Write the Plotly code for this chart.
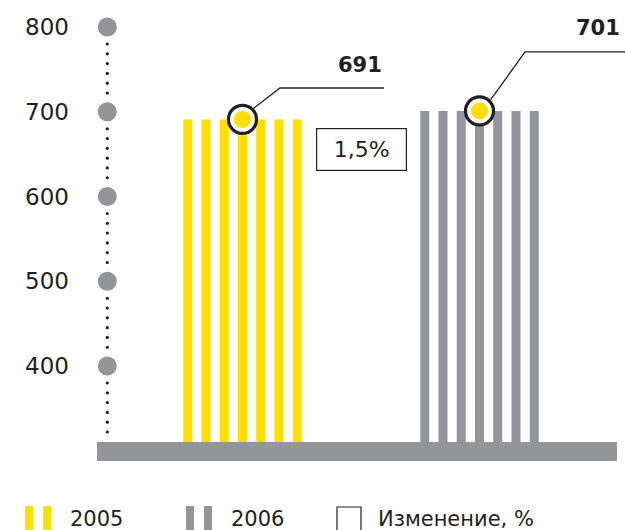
import plotly.graph_objects as go

# ---------------- data ----------------
years = ["2005", "2006"]
values = [691, 701]
change_label = "1,5%"
tick_values = [800, 700, 600, 500, 400]
legend_change = "Изменение, %"

# ---------------- style ----------------
YELLOW = "#FFDE00"
GRAY = "#939598"
DARK = "#231F20"
W, H = 625, 530
FONT = "DejaVu Sans"

# pixel geometry of the canvas (plot area = whole figure)
PX_PER_UNIT_Y = (366 - 27) / 400.0       # pixels per value unit
Y_TOP = 800 + 27 / PX_PER_UNIT_Y          # value at top edge
Y_BOT = Y_TOP - H / PX_PER_UNIT_Y         # value at bottom edge
PX_PER_UNIT_X = 237.0                     # pixels between group centres
X_LEFT = -242.5 / PX_PER_UNIT_X
X_RIGHT = X_LEFT + W / PX_PER_UNIT_X

def dx(px):
    return px / PX_PER_UNIT_X

def dy(px):
    return px / PX_PER_UNIT_Y

def xpix(px):
    return X_LEFT + dx(px)

def ypix(px):
    return Y_TOP - dy(px)

BASE = ypix(442)          # top of the grey floor band
FLOOR_BOTTOM = ypix(461)
group_x = list(range(len(years)))
colors = [YELLOW, GRAY]

N_STRIPES = 7
STRIPE_STEP = dx(18.25)
STRIPE_W = dx(9)

fig = go.Figure()

# striped bars
for gx, v, c in zip(group_x, values, colors):
    xs = [gx + (i - (N_STRIPES - 1) / 2) * STRIPE_STEP for i in range(N_STRIPES)]
    fig.add_trace(go.Bar(x=xs, y=[v - BASE] * N_STRIPES, base=BASE, width=STRIPE_W,
                         marker=dict(color=c, line=dict(width=0)), hoverinfo="skip"))

# grey floor band
fig.add_shape(type="rect", xref="paper", yref="y", x0=97 / W, x1=617 / W,
              y0=FLOOR_BOTTOM, y1=BASE, fillcolor=GRAY, line=dict(width=0), layer="above")

# white circles on floor under each group
fig.add_trace(go.Scatter(x=group_x, y=[(BASE + FLOOR_BOTTOM) / 2] * len(group_x), mode="markers",
                         marker=dict(size=18, color="white", line=dict(width=0)), hoverinfo="skip"))

# axis column: dotted line + grey dots + labels
AX_X = xpix(107.3)
dot_x, dot_y = [], []
for t in tick_values:
    for i in range(6):
        dot_x.append(AX_X)
        dot_y.append(t - dy(17 + i * 9.8))
fig.add_trace(go.Scatter(x=dot_x, y=dot_y, mode="markers",
                         marker=dict(size=3.2, color=DARK, line=dict(width=0)), hoverinfo="skip"))
fig.add_trace(go.Scatter(x=[AX_X] * len(tick_values), y=tick_values, mode="markers",
                         marker=dict(size=19, color=GRAY, line=dict(width=0)), hoverinfo="skip"))
for t in tick_values:
    fig.add_annotation(x=xpix(71), y=t, xref="x", yref="y", text=str(t), showarrow=False,
                       xanchor="right", yanchor="middle",
                       font=dict(family=FONT, size=23, color=DARK))

# leader lines (pixel offsets: right, up) and value labels
leaders = [
    dict(start=(11, 11), elbow=(37.5, 31.4), end=141.5, label_dx=141.5, label_dy=54),
    dict(start=(11, 11), elbow=(45.5, 59), end=150, label_dx=142.5, label_dy=83),
]
for gx, v, L in zip(group_x, values, leaders):
    lx = [gx + dx(L["start"][0]), gx + dx(L["elbow"][0]), gx + dx(L["end"])]
    ly = [v + dy(L["start"][1]), v + dy(L["elbow"][1]), v + dy(L["elbow"][1])]
    fig.add_trace(go.Scatter(x=lx, y=ly, mode="lines", line=dict(color=DARK, width=1.3),
                             hoverinfo="skip"))
    fig.add_annotation(x=gx, y=v, xref="x", yref="y", text=f"<b>{v}</b>", showarrow=False,
                       xanchor="right", yanchor="middle", xshift=L["label_dx"], yshift=L["label_dy"],
                       font=dict(family=FONT, size=21, color=DARK))

# rings on top of each bar
fig.add_trace(go.Scatter(x=group_x, y=values, mode="markers",
                         marker=dict(size=28, color="white", line=dict(color=DARK, width=3.2)),
                         hoverinfo="skip"))
fig.add_trace(go.Scatter(x=group_x, y=values, mode="markers",
                         marker=dict(size=17, color=YELLOW, line=dict(width=0)), hoverinfo="skip"))

# change box between groups
fig.add_annotation(x=sum(group_x) / len(group_x), y=1 - 150 / H, xref="x", yref="paper",
                   text=change_label, showarrow=False, xanchor="center", yanchor="middle",
                   width=89, height=41, bordercolor=DARK, borderwidth=1.2, borderpad=0,
                   font=dict(family=FONT, size=22, color=DARK))

# legend (custom)
legend_items = [
    dict(kind="bars", color=YELLOW, text=years[0], x=25),
    dict(kind="bars", color=GRAY, text=years[1], x=186),
    dict(kind="box", color=DARK, text=legend_change, x=337),
]
LEG_Y0, LEG_Y1 = 506, 531
for it in legend_items:
    x0 = it["x"]
    if it["kind"] == "bars":
        for off in (0, 18):
            fig.add_shape(type="rect", xref="paper", yref="paper",
                          x0=(x0 + off) / W, x1=(x0 + off + 8) / W,
                          y0=1 - LEG_Y1 / H, y1=1 - LEG_Y0 / H,
                          fillcolor=it["color"], line=dict(width=0))
        tx = x0 + 43
    else:
        fig.add_shape(type="rect", xref="paper", yref="paper",
                      x0=x0 / W, x1=(x0 + 24) / W, y0=1 - (LEG_Y1 + 2) / H, y1=1 - (LEG_Y0 + 1) / H,
                      fillcolor="white", line=dict(color=DARK, width=1.2))
        tx = x0 + 39
    fig.add_annotation(x=tx / W, y=1 - 519 / H, xref="paper", yref="paper", text=it["text"],
                       showarrow=False, xanchor="left", yanchor="middle",
                       font=dict(family=FONT, size=21, color=DARK))

fig.update_layout(
    width=W, height=H, margin=dict(l=0, r=0, t=0, b=0),
    paper_bgcolor="white", plot_bgcolor="white",
    showlegend=False, barmode="overlay",
    xaxis=dict(range=[X_LEFT, X_RIGHT], visible=False, fixedrange=True),
    yaxis=dict(range=[Y_BOT, Y_TOP], visible=False, fixedrange=True),
)

fig.write_html("out.html", config={"displayModeBar": False},
               post_script="document.body.style.margin='0';document.body.style.overflow='hidden';")
